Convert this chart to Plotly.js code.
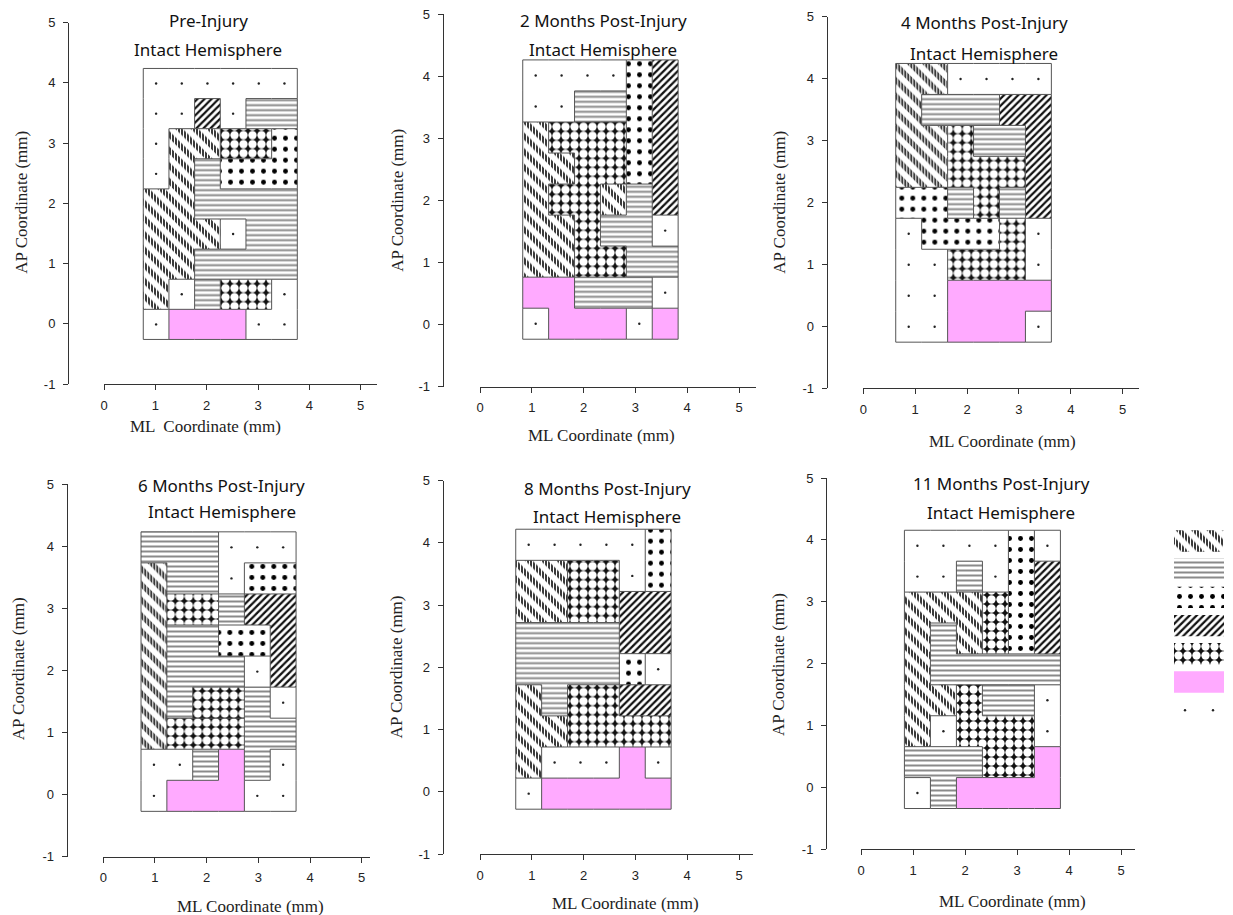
<!DOCTYPE html>
<html><head><meta charset="utf-8">
<script src="https://cdn.plot.ly/plotly-3.0.1.min.js"></script>
<style>body{margin:0;background:#fff}#chart{width:1233px;height:915px}</style>
</head><body><div id="chart"></div>
<script>
// ---------------- data ----------------
const panelTitles = ['Pre-Injury','2 Months Post-Injury','4 Months Post-Injury','6 Months Post-Injury','8 Months Post-Injury','11 Months Post-Injury'];
const subTitle = 'Intact Hemisphere';
const mlTitles = ['ML  Coordinate (mm)','ML Coordinate (mm)','ML Coordinate (mm)','ML Coordinate (mm)','ML Coordinate (mm)','ML Coordinate (mm)'];
const apTitle = 'AP Coordinate (mm)';
const mlTicks = [0,1,2,3,4,5];
const mlTickText = ['0','1','2','3','4','5'];
const apTicks = [-1,0,1,2,3,4,5];
const apTickText = ['-1','0','1','2','3','4','5'];
// nominal grid (mm): 0.5 mm cells
const apRows = [4,3.5,3,2.5,2,1.5,1,0.5,0];
const mlCols = [1,1.5,2,2.5,3,3.5];
const cellHalf = 0.25;
// per-panel grid shift (mm)
const mlShift = [0.015, 0.075, -0.125, -0.02, -0.06, 0.085];
const apShift = [-0.01, 0.015, -0.005, -0.02, -0.03, -0.095];
// region maps: letter = pattern class, suffix = separate region
// d diagonal, h horizontal, s spots, x dense hatch, o honeycomb, p pink, e empty (dot)
const preInjury = [
  'e e e e e e',
  'e e x e h h',
  'e d d o o s',
  'e d h s s s',
  'd d h h h h',
  'd d d e2 h h',
  'd d h h h h',
  'd e3 h2 o2 o2 e4',
  'e5 p p p e4 e4'];
const months2 = [
  'e e e e s x',
  'e e h h s x',
  'd o o o s x',
  'd d o o s x',
  'd o o d2 h x',
  'd d o h h e2',
  'd d o o h h',
  'p p h2 h2 h2 e3',
  'e4 p p p e5 p2'];
const months4 = [
  'd d e e e e',
  'd h h h x x',
  'd d o h2 h2 x',
  'd d o o o x',
  's s h3 o h4 x',
  'e2 s s s o2 e3',
  'e2 e2 o2 o2 o2 e3',
  'e2 e2 p p p p',
  'e2 e2 p p p e4'];
const months6 = [
  'h h h e e e',
  'd h h e s s',
  'd o o h2 x x',
  'd h3 h3 s2 s2 x',
  'd h3 h3 h3 e2 x',
  'd h3 o2 o2 h4 e3',
  'd o3 o3 o3 h4 h4',
  'e4 e4 h5 p h4 e5',
  'e4 p p p e5 e5'];
const months8 = [
  'e e e e e s',
  'd d o o e s',
  'd d o o x x',
  'h h h h x x',
  'h h h h s2 e2',
  'd2 h o2 o2 x2 x2',
  'd2 d2 o2 o2 o2 o2',
  'd2 e3 e3 e3 p e4',
  'e5 p p p p p'];
const months11 = [
  'e e e e s e2',
  'e e h e s x',
  'd d d o s x',
  'd h2 d o s x',
  'd h2 h2 h2 h2 h2',
  'd d o2 h3 h3 e3',
  'd e4 o2 o2 o2 e3',
  'h4 h4 h4 o2 o2 p',
  'e5 h4 p p p p'];
const panels = [preInjury, months2, months4, months6, months8, months11];
const legendOrder = ['d','h','s','x','o','p','e'];

// ---------------- styles ----------------
const patternStyle = {
  d: {fill:'#fff', pattern:{shape:'\\', size:11, solidity:0.48, fgcolor:'#111', bgcolor:'#fff', fillmode:'replace'},
      cut:{shape:'|', size:3, solidity:0.45, fgcolor:'#fff', bgcolor:'rgba(0,0,0,0)', fillmode:'replace'}},
  h: {fill:'#fff', pattern:{shape:'-', size:5, solidity:0.4, fgcolor:'#8a8a8a', bgcolor:'#fff', fillmode:'replace'}},
  s: {fill:'#fff', pattern:{shape:'.', size:11, solidity:0.16, fgcolor:'#000', bgcolor:'#fff', fillmode:'replace'}},
  x: {fill:'#fff', pattern:{shape:'/', size:5, solidity:0.45, fgcolor:'#111', bgcolor:'#fff', fillmode:'replace'}},
  o: {fill:'#000', pattern:{shape:'.', size:9, solidity:0.68, fgcolor:'#fff', bgcolor:'#111', fillmode:'replace'}},
  p: {fill:'#ffaaff'},
  e: {fill:'#ffffff'}
};
const W = 1233, H = 915;
const fx = v => v / W, fy = v => 1 - v / H;
// axis placement (pixels)
const axPix = [
  {x0:104,   x5:360.7,  xEnd:377,    yTop:22.7,  yBot:384,   yLine:68},
  {x0:480,   x5:739,    xEnd:755.7,  yTop:14.3,  yBot:386.7, yLine:442.7},
  {x0:863.3, x5:1122.7, xEnd:1139,   yTop:16.7,  yBot:388.3, yLine:826.7},
  {x0:103.3, x5:361.7,  xEnd:370,    yTop:484,   yBot:856.7, yLine:66.7},
  {x0:480,   x5:739,    xEnd:752.7,  yTop:480.7, yBot:854,   yLine:442.7},
  {x0:861,   x5:1121,   xEnd:1135,   yTop:478,   yBot:849,   yLine:826}
];
const titlePix = [
  {x:208, y1:20, y2:50}, {x:603, y1:20.7, y2:49.3}, {x:984, y1:22.7, y2:53.3},
  {x:221.7, y1:485.7, y2:511.7}, {x:607, y1:488.3, y2:516.7}, {x:1001, y1:483, y2:512}
];
const apTitlePix = [{x:20.7,y:202},{x:396.7,y:200},{x:779.3,y:202.5},{x:18.3,y:669},{x:396.7,y:666.7},{x:778,y:665}];
const mlTitlePix = [{x:205.5,y:426.7},{x:601.7,y:435},{x:1002.5,y:441.7},{x:250,y:906.7},{x:625.8,y:903.3},{x:1012,y:901}];

const tickFont = {family:'Liberation Sans, Arial, sans-serif', size:13, color:'#222'};
const serifFont = {family:'Liberation Serif, Times New Roman, serif', size:17, color:'#222'};
const titleFont = {family:'Noto Sans, Open Sans, sans-serif', size:17, color:'#111'};

const traces = [];
const layout = {width:W, height:H, margin:{l:0,r:0,t:0,b:0}, showlegend:false,
  paper_bgcolor:'#fff', plot_bgcolor:'rgba(0,0,0,0)', annotations:[]};

function fillTraces(pat, xs, ys, xa, ya){
  const st = patternStyle[pat];
  const base = {type:'scatter', mode:'lines', x:xs, y:ys, xaxis:xa, yaxis:ya, fill:'toself',
    fillcolor:st.fill, line:{width:0, color:'rgba(0,0,0,0)'}, hoverinfo:'skip'};
  const out = [];
  const t = Object.assign({}, base);
  if (st.pattern) t.fillpattern = st.pattern;
  out.push(t);
  if (st.cut) {
    out.push(Object.assign({}, base, {fillcolor:'rgba(0,0,0,0)', fillpattern:st.cut}));
  }
  return out;
}

panels.forEach((grid, p) => {
  const k = p + 1, sfx = k === 1 ? '' : String(k);
  const xa = 'x' + sfx, ya = 'y' + sfx;
  const g = grid.map(r => r.trim().split(/\s+/));
  const cx = c => mlCols[c] + mlShift[p];
  const cy = r => apRows[r] + apShift[p];
  const polys = {};
  g.forEach((row, r) => {
    let c = 0;
    while (c < row.length) {
      let c2 = c;
      while (c2 + 1 < row.length && row[c2 + 1][0] === row[c][0]) c2++;
      const pat = row[c][0];
      if (!polys[pat]) polys[pat] = {x:[], y:[]};
      const x0 = cx(c) - cellHalf, x1 = cx(c2) + cellHalf, y0 = cy(r) - cellHalf, y1 = cy(r) + cellHalf;
      polys[pat].x.push(x0, x1, x1, x0, x0, null);
      polys[pat].y.push(y0, y0, y1, y1, y0, null);
      c = c2 + 1;
    }
  });
  Object.keys(polys).forEach(pat => fillTraces(pat, polys[pat].x, polys[pat].y, xa, ya).forEach(t => traces.push(t)));
  // borders between different regions
  const bx = [], by = [];
  const nR = g.length, nC = g[0].length;
  for (let r = 0; r < nR; r++) for (let c = 0; c < nC; c++) {
    const lab = g[r][c];
    const x0 = cx(c) - cellHalf, x1 = cx(c) + cellHalf, yT = cy(r) + cellHalf, yB = cy(r) - cellHalf;
    if (r === 0 || g[r-1][c] !== lab) { bx.push(x0, x1, null); by.push(yT, yT, null); }
    if (c === 0 || g[r][c-1] !== lab) { bx.push(x0, x0, null); by.push(yT, yB, null); }
    if (r === nR - 1) { bx.push(x0, x1, null); by.push(yB, yB, null); }
    if (c === nC - 1) { bx.push(x1, x1, null); by.push(yT, yB, null); }
  }
  traces.push({type:'scatter', mode:'lines', x:bx, y:by, xaxis:xa, yaxis:ya,
    line:{color:'#555', width:1}, hoverinfo:'skip'});
  // dots in empty cells
  const dx = [], dy = [];
  g.forEach((row, r) => row.forEach((lab, c) => { if (lab[0] === 'e') { dx.push(cx(c)); dy.push(cy(r)); } }));
  traces.push({type:'scatter', mode:'markers', x:dx, y:dy, xaxis:xa, yaxis:ya,
    marker:{size:2.4, color:'#222'}, hoverinfo:'skip'});

  const a = axPix[p];
  const xmax = 5 * (a.xEnd - a.x0) / (a.x5 - a.x0);
  const common = {showgrid:false, zeroline:false, showline:true, linecolor:'#333', linewidth:1,
    ticks:'outside', ticklen:5, tickwidth:1, tickcolor:'#333', tickfont:tickFont, fixedrange:true};
  layout['xaxis' + sfx] = Object.assign({}, common, {domain:[fx(a.x0), fx(a.xEnd)], range:[0, xmax],
    anchor:ya, tickmode:'array', tickvals:mlTicks, ticktext:mlTickText, ticklabelstandoff:4});
  layout['yaxis' + sfx] = Object.assign({}, common, {domain:[fy(a.yBot), fy(a.yTop)], range:[-1, 5],
    anchor:'free', position:fx(a.yLine), tickmode:'array', tickvals:apTicks, ticktext:apTickText, ticklabelstandoff:5});

  const t = titlePix[p];
  layout.annotations.push({text:panelTitles[p], x:fx(t.x), y:fy(t.y1), xref:'paper', yref:'paper',
    xanchor:'center', yanchor:'middle', showarrow:false, font:titleFont});
  layout.annotations.push({text:subTitle, x:fx(t.x), y:fy(t.y2), xref:'paper', yref:'paper',
    xanchor:'center', yanchor:'middle', showarrow:false, font:titleFont});
  layout.annotations.push({text:apTitle, x:fx(apTitlePix[p].x), y:fy(apTitlePix[p].y), xref:'paper', yref:'paper',
    xanchor:'center', yanchor:'middle', textangle:-90, showarrow:false, font:serifFont});
  layout.annotations.push({text:mlTitles[p], x:fx(mlTitlePix[p].x), y:fy(mlTitlePix[p].y), xref:'paper', yref:'paper',
    xanchor:'center', yanchor:'middle', showarrow:false, font:serifFont});
});

// legend swatches on a hidden subplot
const lgTop = 525, lgBot = 725, lgFirst = 541, lgStep = 28.2;
const sw = 0.38;
legendOrder.forEach((pat, i) => {
  if (pat === 'e') {
    traces.push({type:'scatter', mode:'markers', x:[0.22, 0.78], y:[i, i], xaxis:'x7', yaxis:'y7',
      marker:{size:2.4, color:'#222'}, hoverinfo:'skip'});
  } else {
    fillTraces(pat, [0,1,1,0,0], [i-sw, i-sw, i+sw, i+sw, i-sw], 'x7', 'y7').forEach(t => traces.push(t));
  }
});
layout.xaxis7 = {domain:[fx(1174), fx(1224)], range:[0,1], visible:false, anchor:'y7', fixedrange:true};
layout.yaxis7 = {domain:[fy(lgBot), fy(lgTop)], range:[(lgBot - lgFirst)/lgStep, (lgTop - lgFirst)/lgStep],
  visible:false, anchor:'x7', fixedrange:true};

Plotly.newPlot('chart', traces, layout, {displayModeBar:false, staticPlot:true});
</script>
</body></html>
